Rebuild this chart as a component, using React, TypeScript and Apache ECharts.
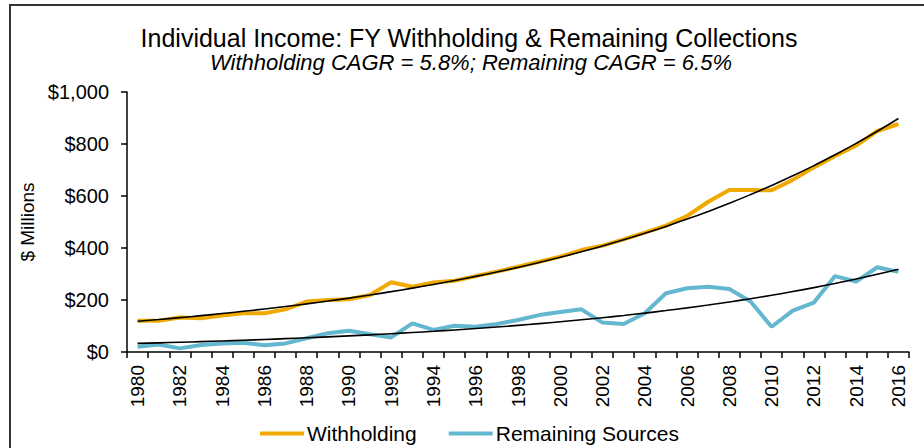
import React, { useEffect, useRef } from "react";
import * as echarts from "echarts";

const years: string[] = [];
for (let y = 1980; y <= 2016; y++) years.push(String(y));

const withholding = [
  120, 120, 133, 130, 140, 149, 149, 164, 194, 200,
  203, 219, 268, 251, 267, 274, 292, 309, 328, 347,
  367, 392, 409, 433, 459, 486, 523, 578, 623, 623,
  622, 662, 710, 754, 794, 850, 877,
];

const remaining = [
  20, 29, 14, 27, 33, 36, 26, 33, 53, 72,
  82, 68, 56, 110, 85, 101, 97, 108, 123, 142,
  154, 164, 113, 108, 149, 226, 245, 251, 242, 194,
  97, 159, 190, 292, 271, 326, 308,
];

// CAGR trend curves (start level, rate from subtitle)
const withholdingTrendStart = 118;
const withholdingCAGR = 0.058;
const remainingTrendStart = 33;
const remainingCAGR = 0.065;

const yTicks = [0, 200, 400, 600, 800, 1000];

const titleText = "Individual Income: FY Withholding & Remaining Collections";
const subtitleText = "Withholding CAGR = 5.8%; Remaining CAGR = 6.5%";

function cagrCurve(start: number, rate: number, n: number): number[] {
  const out: number[] = [];
  for (let i = 0; i < n; i++) out.push(start * Math.pow(1 + rate, i));
  return out;
}

const ORANGE = "#F0A900";
const BLUE = "#63B7CF";
const FONT = "Liberation Sans, Arial, sans-serif";

export default function App() {
  const ref = useRef<HTMLDivElement>(null);
  useEffect(() => {
    if (!ref.current) return;
    const chart = echarts.init(ref.current, undefined, { renderer: "svg" });
    const wTrend = cagrCurve(withholdingTrendStart, withholdingCAGR, years.length);
    const rTrend = cagrCurve(remainingTrendStart, remainingCAGR, years.length);
    chart.setOption({
      animation: false,
      backgroundColor: "#fff",
      textStyle: { fontFamily: FONT, color: "#000" },
      graphic: [
        {
          type: "rect",
          shape: { x: 10, y: 5, width: 1000, height: 1000 },
          style: { fill: "none", stroke: "#333", lineWidth: 2 },
          silent: true,
        },
        {
          type: "text",
          x: 469,
          y: 38,
          style: {
            text: titleText,
            fontFamily: FONT,
            fontSize: 25,
            fill: "#000",
            align: "center",
            verticalAlign: "middle",
          },
        },
        {
          type: "text",
          x: 471,
          y: 62.5,
          style: {
            text: subtitleText,
            fontFamily: FONT,
            fontSize: 22,
            fontStyle: "italic",
            fill: "#000",
            align: "center",
            verticalAlign: "middle",
          },
        },
      ],
      legend: {
        data: ["Withholding", "Remaining Sources"],
        left: 255,
        top: 418,
        icon: "rect",
        itemWidth: 44,
        itemHeight: 4,
        itemGap: 32,
        textStyle: { fontFamily: FONT, fontSize: 21, color: "#000", padding: [0, 0, 0, -2] },
      },
      grid: { left: 127, top: 92, width: 782, height: 260, containLabel: false },
      xAxis: {
        type: "category",
        data: years,
        boundaryGap: true,
        axisLine: { lineStyle: { color: "#000", width: 1.5 } },
        axisTick: { show: true, interval: 0, length: 6, lineStyle: { color: "#000", width: 1.5 } },
        axisLabel: {
          interval: 1,
          rotate: 90,
          margin: 13,
          fontSize: 19,
          color: "#000",
          fontFamily: FONT,
        },
        splitLine: { show: false },
      },
      yAxis: {
        type: "value",
        min: yTicks[0],
        max: yTicks[yTicks.length - 1],
        interval: 200,
        name: "$ Millions",
        nameLocation: "middle",
        nameGap: 87,
        nameTextStyle: { fontSize: 19, color: "#000", fontFamily: FONT },
        axisLine: { show: true, lineStyle: { color: "#000", width: 1.5 } },
        axisTick: { show: true, length: 6, lineStyle: { color: "#000", width: 1.5 } },
        axisLabel: {
          margin: 18,
          fontSize: 20,
          color: "#000",
          fontFamily: FONT,
          formatter: (v: number) => "$" + v.toLocaleString("en-US"),
        },
        splitLine: { show: false },
      },
      series: [
        {
          name: "Withholding",
          type: "line",
          data: withholding,
          symbol: "none",
          lineStyle: { color: ORANGE, width: 4 },
          itemStyle: { color: ORANGE },
          z: 2,
        },
        {
          name: "Remaining Sources",
          type: "line",
          data: remaining,
          symbol: "none",
          lineStyle: { color: BLUE, width: 4 },
          itemStyle: { color: BLUE },
          z: 2,
        },
        {
          name: "Withholding Trend",
          type: "line",
          data: wTrend,
          symbol: "none",
          smooth: true,
          lineStyle: { color: "#000", width: 1.6 },
          itemStyle: { color: "#000" },
          z: 3,
        },
        {
          name: "Remaining Trend",
          type: "line",
          data: rTrend,
          symbol: "none",
          smooth: true,
          lineStyle: { color: "#000", width: 1.6 },
          itemStyle: { color: "#000" },
          z: 3,
        },
      ],
    });
    return () => chart.dispose();
  }, []);
  return (
    <div
      ref={ref}
      style={{ position: "fixed", left: 0, top: 0, width: 924, height: 448 }}
    />
  );
}
